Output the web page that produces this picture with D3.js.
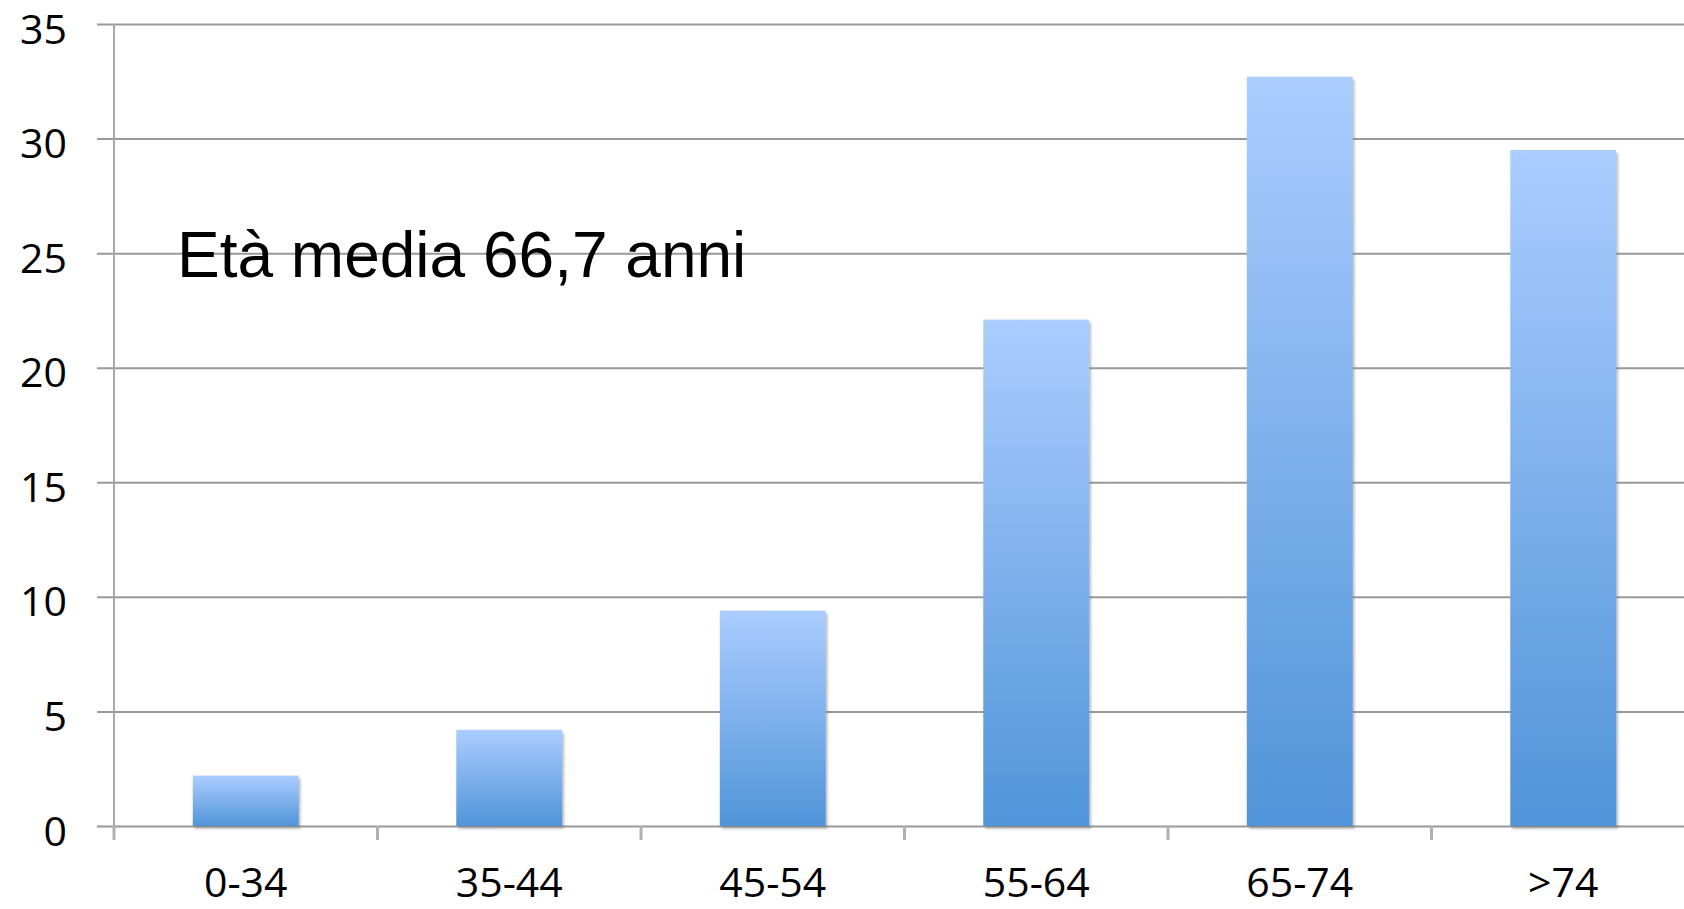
<!DOCTYPE html>
<html>
<head>
<meta charset="utf-8">
<script src="https://cdn.jsdelivr.net/npm/d3@7"></script>
<style>
  html, body { margin: 0; padding: 0; background: #fff; overflow: hidden; }
  svg { display: block; }
</style>
</head>
<body>
<svg id="chart" width="1684" height="909"></svg>
<script>
// Age groups and share of patients (%)
const categories = ["0-34", "35-44", "45-54", "55-64", "65-74", ">74"];
const values = [2.2, 4.2, 9.4, 22.1, 32.7, 29.5];
const yTicks = [0, 5, 10, 15, 20, 25, 30, 35];
const note = "Età media 66,7 anni";

const svg = d3.select("#chart");
const plotLeft = 114, plotTop = 24, plotBottom = 826;
const step = 263.5;
const plotRight = plotLeft + step * categories.length;

const x = d3.scaleBand()
  .domain(categories)
  .range([plotLeft, plotRight])
  .paddingInner(0.598)
  .paddingOuter(0.299);

const y = d3.scaleLinear().domain([0, 35]).range([plotBottom, plotTop]);

// Bar fill: light blue at the top fading to a deeper blue at the base
const defs = svg.append("defs");
const grad = defs.append("linearGradient")
  .attr("id", "barFill")
  .attr("x1", 0).attr("y1", 0).attr("x2", 0).attr("y2", 1);
grad.append("stop").attr("offset", "0%").attr("stop-color", "#abcdff");
grad.append("stop").attr("offset", "100%").attr("stop-color", "#5094d9");

const shadow = defs.append("filter").attr("id", "barShadow")
  .attr("x", "-10%").attr("y", "-10%").attr("width", "130%").attr("height", "130%");
shadow.append("feDropShadow")
  .attr("dx", 2).attr("dy", 3).attr("stdDeviation", 1)
  .attr("flood-color", "#777").attr("flood-opacity", 0.45);

// Y axis with full-width gridlines
const yAxis = svg.append("g")
  .attr("transform", `translate(${plotLeft},0)`)
  .call(d3.axisLeft(y)
    .tickValues(yTicks)
    .tickSizeInner(-(plotRight - plotLeft))
    .tickSizeOuter(0)
    .tickPadding(47)
    .tickFormat(d3.format("d")));
yAxis.select(".domain").remove();
yAxis.selectAll(".tick line")
  .attr("x1", -17)
  .attr("stroke", "#989898")
  .attr("stroke-width", 2);
yAxis.selectAll(".tick text")
  .attr("dy", 19)
  .attr("fill", "#000")
  .style("font-family", "'Open Sans', sans-serif")
  .style("font-size", "41px");

// Vertical axis line
svg.append("line")
  .attr("x1", plotLeft).attr("x2", plotLeft)
  .attr("y1", y(35)).attr("y2", plotBottom + 14)
  .attr("stroke", "#a8a8a8").attr("stroke-width", 2);

// Category boundary ticks below the baseline
const boundaries = categories.map(c => x(c) - x.step() * x.paddingOuter()).concat([plotRight]);
svg.append("g").selectAll("line")
  .data(boundaries)
  .join("line")
  .attr("x1", d => d).attr("x2", d => d)
  .attr("y1", plotBottom).attr("y2", plotBottom + 14)
  .attr("stroke", "#b0b0b0").attr("stroke-width", 3);

// Bars
svg.append("g").selectAll("rect")
  .data(values)
  .join("rect")
  .attr("x", (d, i) => x(categories[i]))
  .attr("width", x.bandwidth())
  .attr("y", d => y(d))
  .attr("height", d => y(0) - y(d))
  .attr("fill", "url(#barFill)")
  .attr("filter", "url(#barShadow)");

// Category labels
const xAxis = svg.append("g")
  .attr("transform", `translate(0,${plotBottom})`)
  .call(d3.axisBottom(x).tickSize(0).tickPadding(0));
xAxis.select(".domain").remove();
xAxis.selectAll(".tick text")
  .attr("y", 71)
  .attr("dy", 0)
  .attr("fill", "#000")
  .style("font-family", "'Open Sans', sans-serif")
  .style("font-size", "41px");

// Mean age annotation
svg.append("text")
  .attr("x", 177)
  .attr("y", 277)
  .attr("fill", "#000")
  .style("font-family", "'Liberation Sans', Arial, sans-serif")
  .style("font-size", "64px")
  .text(note);
</script>
</body>
</html>
